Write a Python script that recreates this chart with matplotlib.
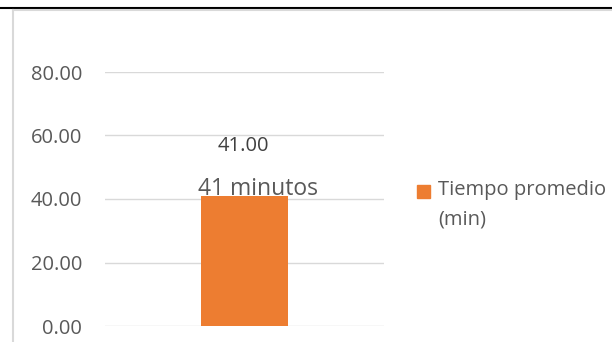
import matplotlib
matplotlib.use("Agg")
import matplotlib.pyplot as plt
from matplotlib.lines import Line2D
from matplotlib.patches import Rectangle

categories = [""]
values = [41.0]
value_labels = ["41.00"]
text_labels = ["41 minutos"]
series_name = "Tiempo promedio\n(min)"
yticks = [0, 20, 40, 60, 80]

ORANGE = "#ED7D31"
GREY_TXT = "#595959"
plt.rcParams["font.family"] = ["Open Sans", "DejaVu Sans"]

W, H = 612, 342
fig = plt.figure(figsize=(W / 100, H / 100), dpi=100)
ax = fig.add_axes([105 / W, 1 - 326 / H, (384 - 105) / W, (326 - 72) / H])

bars = ax.bar(range(len(values)), values, width=0.315, color=ORANGE, zorder=3)
ax.set_xlim(-0.5, 0.5)
ax.set_ylim(0, 80)
ax.set_yticks(yticks)
ax.set_yticklabels([f"{v:.2f}" for v in yticks], color=GREY_TXT, fontsize=14.5)
ax.tick_params(axis="y", length=0, pad=16.5)
ax.set_xticks([])
ax.grid(axis="y", color="#D9D9D9", lw=1, zorder=0)
for s in ax.spines.values():
    s.set_visible(False)

for b, v, t in zip(bars, value_labels, text_labels):
    x = b.get_x() + b.get_width() / 2
    top = b.get_height()
    ax.annotate(t, (x, top), xytext=(10, 5), textcoords="offset points",
                ha="center", va="center", fontsize=16.5, color=GREY_TXT)
    ax.annotate(v, (x, top), xytext=(-1, 36), textcoords="offset points",
                ha="center", va="center", fontsize=14.5, color="#404040")

# legend drawn by hand: square + two-line label
fig.add_artist(Rectangle((417 / W, 1 - 198 / H), 13 / W, 13 / H,
                         transform=fig.transFigure, color=ORANGE))
fig.text(438 / W, 1 - 180 / H, series_name, ha="left", va="top",
         fontsize=14.5, color=GREY_TXT, linespacing=1.6,
         transform=fig.transFigure)

# page/frame lines
fig.add_artist(Line2D([0, 1], [1 - 7.5 / H] * 2, color="black", lw=1.5))
fig.add_artist(Line2D([13 / W, 1], [1 - 10 / H] * 2, color="#D9D9D9", lw=1.5))
fig.add_artist(Line2D([13 / W] * 2, [0, 1 - 10 / H], color="#D9D9D9", lw=1.5))

fig.savefig("out.png", dpi=100)
